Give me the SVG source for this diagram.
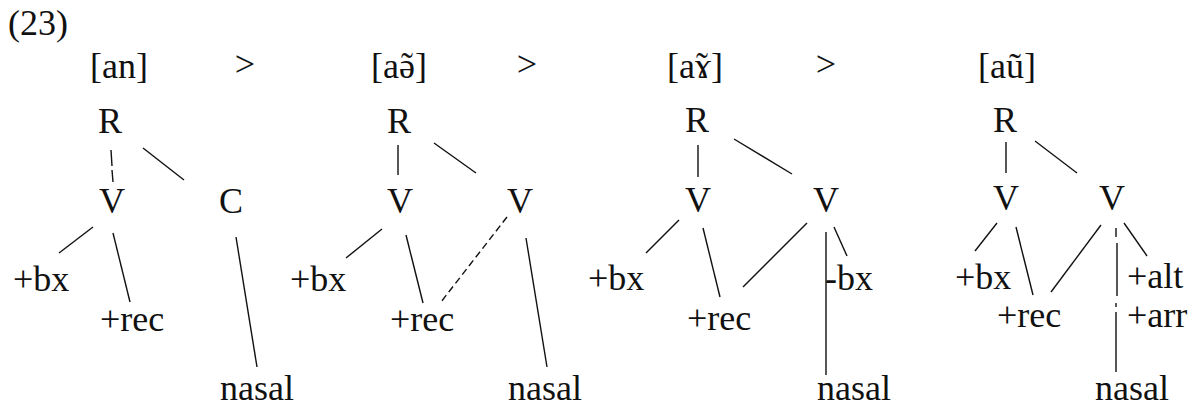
<svg xmlns="http://www.w3.org/2000/svg" width="1200" height="409" viewBox="0 0 1200 409">
  <style>
    text { font-family: "Liberation Serif", "DejaVu Serif", serif; font-size: 36px; fill: #111; }
    .n { text-anchor: middle; }
    .edge { stroke: #111; stroke-width: 1.4; fill: none; stroke-linecap: butt; }
    .dash { stroke-dasharray: 7 4; }
  </style>
  <rect width="1200" height="409" fill="#fff"/>

  <!-- example number and the sound sequence; nasal tildes are spacing marks pulled back over the vowel -->
  <g id="header">
    <text x="8" y="35">(23)</text>
    <text class="n" x="119" y="78">[an]</text>
    <text class="n" x="245" y="76">&gt;</text>
    <text x="371" y="78">[aə<tspan dx="-14">˜</tspan><tspan dx="2">]</tspan></text>
    <text class="n" x="527" y="76">&gt;</text>
    <text x="667" y="78">[aɤ<tspan dx="-15">˜</tspan><tspan dx="3">]</tspan></text>
    <text class="n" x="826" y="76">&gt;</text>
    <text class="n" x="1007" y="78">[aũ]</text>
  </g>

  <!-- association lines -->
  <g id="connectors">
    <!-- tree 1: [an] -->
    <path class="edge" d="M111 150 L112 166 M112 170 L113 182"/>
    <path class="edge" d="M143 148 L184 180"/>
    <path class="edge" d="M93 227 L59 253"/>
    <path class="edge" d="M113 233 L130 302"/>
    <path class="edge" d="M236 237 L257 367"/>
    <!-- tree 2: [aə̃] -->
    <path class="edge" d="M398 145 L398 175"/>
    <path class="edge" d="M434 143 L476 173"/>
    <path class="edge" d="M382 229 L346 258"/>
    <path class="edge" d="M406 235 L423 303"/>
    <path class="edge dash" d="M507 217 L441 302"/>
    <path class="edge" d="M526 238 L547 367"/>
    <!-- tree 3: [aɤ̃] -->
    <path class="edge" d="M698 145 L698 177"/>
    <path class="edge" d="M734 139 L792 174"/>
    <path class="edge" d="M679 220 L646 253"/>
    <path class="edge" d="M703 228 L720 297"/>
    <path class="edge" d="M807 223 L743 287"/>
    <path class="edge" d="M826 232 L826 375"/>
    <path class="edge" d="M834 227 L847 256"/>
    <!-- tree 4: [aũ] -->
    <path class="edge" d="M1006 142 L1006 173"/>
    <path class="edge" d="M1035 141 L1077 173"/>
    <path class="edge" d="M997 223 L975 251"/>
    <path class="edge" d="M1016 227 L1033 295"/>
    <path class="edge" d="M1101 225 L1051 292"/>
    <path class="edge" d="M1116 228 L1116 237 M1117 243 L1117 296 M1116 303 L1116 307 M1116 312 L1116 372"/>
    <path class="edge" d="M1124 223 L1147 256"/>
  </g>

  <!-- tree 1 -->
  <g id="t1-R"><text class="n" x="110" y="133">R</text></g>
  <g id="t1-V"><text class="n" x="112" y="213">V</text></g>
  <g id="t1-C"><text class="n" x="231" y="213">C</text></g>
  <g id="t1-bx"><text x="13" y="291">+bx</text></g>
  <g id="t1-rec"><text x="100" y="331">+rec</text></g>
  <g id="t1-nasal"><text x="220" y="400">nasal</text></g>

  <!-- tree 2 -->
  <g id="t2-R"><text class="n" x="399" y="133">R</text></g>
  <g id="t2-V1"><text class="n" x="400" y="213">V</text></g>
  <g id="t2-V2"><text class="n" x="520" y="213">V</text></g>
  <g id="t2-bx"><text x="290" y="291">+bx</text></g>
  <g id="t2-rec"><text x="390" y="331">+rec</text></g>
  <g id="t2-nasal"><text x="508" y="400">nasal</text></g>

  <!-- tree 3 -->
  <g id="t3-R"><text class="n" x="697" y="132">R</text></g>
  <g id="t3-V1"><text class="n" x="698" y="212">V</text></g>
  <g id="t3-V2"><text class="n" x="826" y="212">V</text></g>
  <g id="t3-bx"><text x="588" y="290">+bx</text></g>
  <g id="t3-rec"><text x="687" y="330">+rec</text></g>
  <g id="t3-minus-bx"><text x="825" y="290">-bx</text></g>
  <g id="t3-nasal"><text x="817" y="400">nasal</text></g>

  <!-- tree 4 -->
  <g id="t4-R"><text class="n" x="1005" y="132">R</text></g>
  <g id="t4-V1"><text class="n" x="1006" y="210">V</text></g>
  <g id="t4-V2"><text class="n" x="1112" y="210">V</text></g>
  <g id="t4-bx"><text x="955" y="289">+bx</text></g>
  <g id="t4-rec"><text x="997" y="327">+rec</text></g>
  <g id="t4-alt"><text x="1127" y="288">+alt</text></g>
  <g id="t4-arr"><text x="1127" y="327">+arr</text></g>
  <g id="t4-nasal"><text x="1095" y="400">nasal</text></g>
</svg>
